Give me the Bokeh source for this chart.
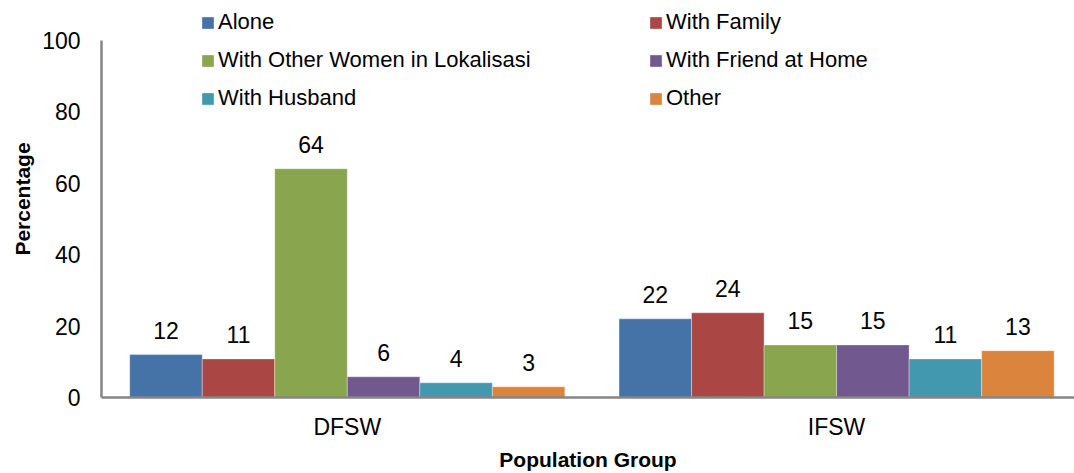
from bokeh.plotting import figure
from bokeh.models import ColumnDataSource, LabelSet, Legend, LegendItem, FixedTicker, Range1d
from bokeh.core.properties import value
from bokeh.embed import file_html
from bokeh.resources import INLINE

# ---- data ----
groups = ["DFSW", "IFSW"]
series = ["Alone", "With Family", "With Other Women in Lokalisasi",
          "With Friend at Home", "With Husband", "Other"]
alone = [12.0, 22.0]
with_family = [10.8, 23.7]
with_other_women = [64.0, 14.7]
with_friend = [5.8, 14.7]
with_husband = [4.1, 10.8]
other = [3.0, 13.1]
y_ticks = [0, 20, 40, 60, 80, 100]

# ---- styles ----
colors = ["#4572A7", "#AA4643", "#89A54E", "#71588F", "#4198AF", "#DB843D"]
FONT = "Liberation Sans"
BAR_W = 0.1482
AXIS_COLOR = "#868686"

values = [alone, with_family, with_other_women, with_friend, with_husband, other]

p = figure(width=1074, height=473, output_backend="svg", toolbar_location=None,
           x_range=Range1d(-0.5023, 1.4862), y_range=Range1d(0, 111.05),
           min_border_left=101, min_border_right=0, min_border_top=0, min_border_bottom=76)
p.outline_line_color = None
p.xgrid.visible = False
p.ygrid.visible = False
p.background_fill_color = "white"

renderers = []
for i, vals in enumerate(values):
    xs = [g + (i - (len(values) - 1) / 2) * BAR_W for g in range(len(groups))]
    src = ColumnDataSource(dict(x=xs, top=vals, label=["%.0f" % v for v in vals]))
    r = p.vbar(x="x", top="top", width=BAR_W, source=src, fill_color=colors[i],
               line_color="white", line_alpha=0.35, line_width=1)
    renderers.append(r)
    p.add_layout(LabelSet(x="x", y="top", text="label", source=src, y_offset=24,
                          text_align="center", text_baseline="middle",
                          text_font=value(FONT), text_font_size=value("23px"),
                          text_color="black"))

# axes
p.yaxis.ticker = FixedTicker(ticks=y_ticks)
p.yaxis.bounds = (0, 100)
p.xaxis.ticker = FixedTicker(ticks=list(range(len(groups))))
p.xaxis.major_label_overrides = {i: g for i, g in enumerate(groups)}
for ax in (p.xaxis, p.yaxis):
    ax.axis_line_color = AXIS_COLOR
    ax.axis_line_width = 2.5
    ax.major_tick_line_color = None
    ax.minor_tick_line_color = None
    ax.major_tick_out = 0
    ax.major_tick_in = 0
    ax.major_label_text_font = FONT
    ax.major_label_text_font_size = "23px"
    ax.major_label_text_color = "black"
    ax.axis_label_text_font = FONT
    ax.axis_label_text_font_size = "21px"
    ax.axis_label_text_font_style = "bold"
    ax.axis_label_text_color = "black"
p.yaxis.axis_label = "Percentage"
p.xaxis.axis_label = "Population Group"
p.yaxis.major_label_standoff = 21
p.yaxis.axis_label_standoff = 5
p.xaxis.major_label_standoff = 16
p.xaxis.axis_label_standoff = 5

# legends: two columns
col1 = [0, 2, 4]
col2 = [1, 3, 5]
for idxs, xloc in ((col1, 99), (col2, 547)):
    leg = Legend(items=[LegendItem(label=series[k], renderers=[renderers[k]]) for k in idxs],
                 location=(xloc, 286), orientation="vertical",
                 glyph_width=15, glyph_height=15, label_standoff=3,
                 padding=0, margin=0, spacing=12, label_height=20,
                 label_text_font=FONT, label_text_font_size="22px", label_text_color="black",
                 border_line_color=None, background_fill_alpha=0)
    p.add_layout(leg, "center")

open("out.html", "w").write(file_html(p, INLINE))
